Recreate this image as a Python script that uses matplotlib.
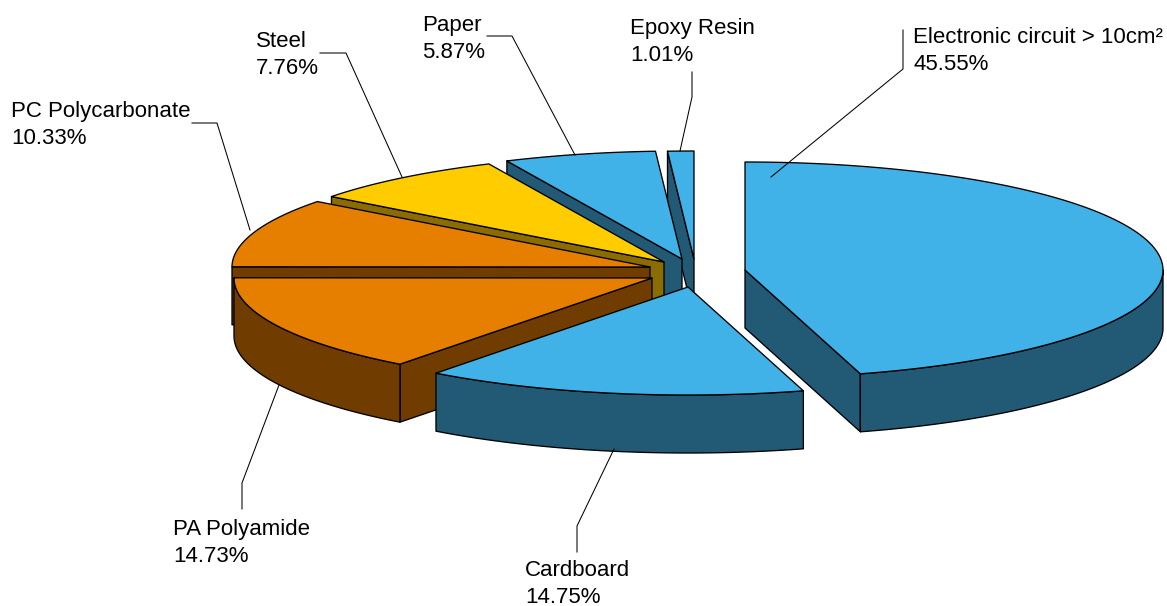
import numpy as np
import matplotlib
matplotlib.use('Agg')
import matplotlib.pyplot as plt
from matplotlib.patches import Polygon

# Slices in clockwise order starting at the top of the pie
names = ['Electronic circuit > 10cm²', 'Cardboard', 'PA Polyamide', 'PC Polycarbonate', 'Steel', 'Paper', 'Epoxy Resin']
shares = [45.55, 14.75, 14.73, 10.33, 7.76, 5.87, 1.01]

# Explode offset of each slice from the pie centre
explodeX = [55, -2, -38, -40, -26, -8, 4]
explodeY = [0, 17, 8, -3, -8, -11, -11]

topColors = ['#40B2E8', '#40B2E8', '#E67E00', '#E67E00', '#FFCC00', '#40B2E8', '#40B2E8']
sideColors = ['#225A75', '#225A75', '#703C00', '#703C00', '#8A6C00', '#225A75', '#225A75']

# Where the labels sit (baseline of the name), and the leader line running to each slice
labelX = [913, 525, 173, 11, 256, 422, 630]
labelY = [43, 576, 535, 117, 47, 31, 34]
leaderLines = [
	[(903, 30), (903, 69), (771, 177)],
	[(577, 552), (577, 526), (614, 449)],
	[(242, 509), (242, 483), (279, 385)],
	[(192, 123), (217, 123), (250, 230)],
	[(320, 53), (346, 53), (402, 177)],
	[(487, 36), (512, 36), (575, 155)],
	[(692, 72), (692, 97), (680, 151)],
]

centerX, centerY = 690, 270
radiusX, radiusY = 418, 108
depth = 58
lineWidth = 0.95

# Returns points of the pie rim between two angles (degrees clockwise from the top)
def rimPoints(cx, cy, start, end):
	angles = np.radians(np.linspace(start, end, 120))
	return np.column_stack((cx + radiusX * np.sin(angles), cy - radiusY * np.cos(angles)))

def addShape(ax, points, color):
	ax.add_patch(Polygon(points, closed=True, facecolor=color, edgecolor='black', linewidth=lineWidth, joinstyle='round'))

# Draws the cut face of a slice going from the apex to the rim at given angle
def drawCutFace(ax, cx, cy, angle, color):
	rim = rimPoints(cx, cy, angle, angle)[0]
	addShape(ax, [(cx, cy), rim, (rim[0], rim[1] + depth), (cx, cy + depth)], color)

def drawSlice(ax, cx, cy, start, end, topColor, sideColor):
	if np.sin(np.radians(start)) < -1e-6:
		drawCutFace(ax, cx, cy, start, sideColor)
	if np.sin(np.radians(end)) > 1e-6:
		drawCutFace(ax, cx, cy, end, sideColor)

	# Only the front part of the rim can be seen
	frontStart, frontEnd = max(start, 90), min(end, 270)
	if frontEnd > frontStart:
		rim = rimPoints(cx, cy, frontStart, frontEnd)
		addShape(ax, np.vstack((rim, (rim + [0, depth])[::-1])), sideColor)

	addShape(ax, np.vstack(([(cx, cy)], rimPoints(cx, cy, start, end))), topColor)

plt.rcParams['font.family'] = ['Liberation Sans', 'DejaVu Sans']

figure = plt.figure(figsize=(11.67, 6.06), dpi=100)
ax = figure.add_axes([0, 0, 1, 1])
ax.set_xlim(0, 1167)
ax.set_ylim(606, 0)
ax.axis('off')

edges = np.concatenate(([0], np.cumsum(shares))) / np.sum(shares) * 360

# Back slices first, the big slice and the cardboard go on top of them
drawOrder = [6, 5, 4, 3, 2, 0, 1]
for i in drawOrder:
	drawSlice(ax, centerX + explodeX[i], centerY + explodeY[i], edges[i], edges[i + 1], topColors[i], sideColors[i])

for i in range(len(names)):
	xs, ys = zip(*leaderLines[i])
	ax.plot(xs, ys, color='black', linewidth=0.75)
	ax.text(labelX[i], labelY[i], names[i], fontsize=16, ha='left', va='baseline', color='black')
	ax.text(labelX[i], labelY[i] + 27, '%.2f%%' % shares[i], fontsize=16, ha='left', va='baseline', color='black')

figure.savefig('out.png', dpi=100)
